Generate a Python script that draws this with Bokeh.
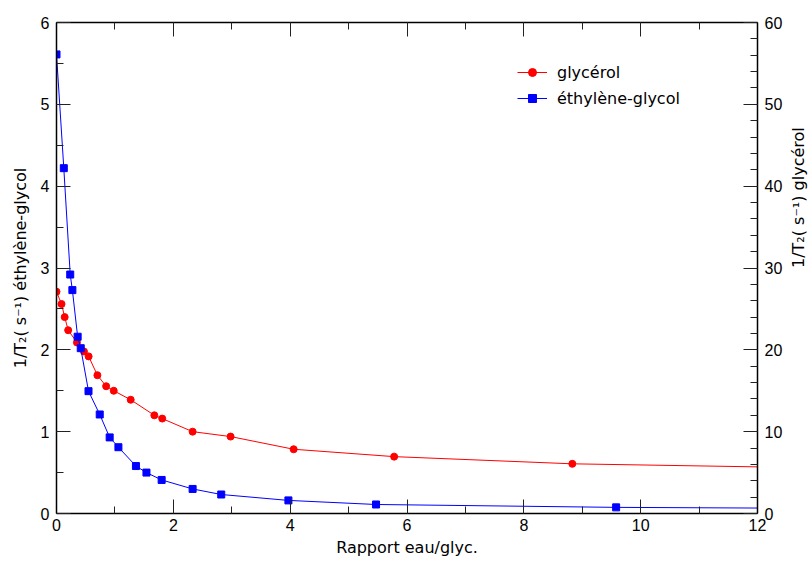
import math
from bokeh.plotting import figure
from bokeh.models import (Range1d, LinearAxis, SingleIntervalTicker, Legend, LegendItem)
from bokeh.embed import file_html
from bokeh.resources import INLINE

# Data
# Glycérol (right axis, 1/T2 in s^-1, scale 0-60)
gly_x = [0.0, 0.086, 0.14, 0.20, 0.35, 0.47, 0.55, 0.70, 0.85, 0.98, 1.27, 1.675, 1.81, 2.33, 2.98, 4.06, 5.78, 8.83, 16.0]
gly_y = [27.1, 25.6, 24.0, 22.4, 20.9, 19.8, 19.2, 16.9, 15.55, 15.0, 13.9, 12.0, 11.6, 10.0, 9.4, 7.85, 6.95, 6.07, 5.23]

# Ethylène-glycol (left axis, 1/T2 in s^-1, scale 0-6)
eg_x = [0.0, 0.125, 0.235, 0.272, 0.362, 0.415, 0.548, 0.74, 0.91, 1.06, 1.36, 1.54, 1.80, 2.33, 2.82, 3.97, 5.47, 9.58, 16.0]
eg_y = [5.61, 4.22, 2.92, 2.73, 2.16, 2.02, 1.495, 1.21, 0.93, 0.81, 0.58, 0.50, 0.41, 0.30, 0.232, 0.16, 0.11, 0.075, 0.053]

x_label = "Rapport eau/glyc."
y_left_label = "1/T\u2082( s\u207b\u00b9) \u00e9thyl\u00e8ne-glycol"
y_right_label = "1/T\u2082( s\u207b\u00b9) glyc\u00e9rol"
legend_labels = ["glyc\u00e9rol", "\u00e9thyl\u00e8ne-glycol"]

TICK_FONT = "Liberation Sans"
LABEL_FONT = "DejaVu Sans"

p = figure(frame_width=701, frame_height=491,
           x_range=Range1d(0, 12), y_range=Range1d(0, 6),
           output_backend="svg", toolbar_location=None,
           min_border_left=56, min_border_right=55,
           min_border_top=22, min_border_bottom=50,
           x_axis_location=None, y_axis_location=None)
p.extra_y_ranges = {"g": Range1d(0, 60)}
p.xgrid.visible = False
p.ygrid.visible = False
p.outline_line_color = None
p.background_fill_color = "white"
p.border_fill_color = "white"


def style(ax, ticker, labels=True):
    ax.ticker = ticker
    ax.axis_line_color = "black"
    ax.axis_line_width = 1.5
    ax.major_tick_in = 14
    ax.major_tick_out = 0
    ax.minor_tick_in = 7
    ax.minor_tick_out = 0
    ax.major_tick_line_color = "#222222"
    ax.minor_tick_line_color = "#222222"
    ax.major_label_text_font = TICK_FONT
    if labels:
        ax.major_label_text_font_size = "16px"
        ax.major_label_text_color = "black"
        ax.major_label_standoff = 7
    else:
        ax.major_label_text_font_size = "1px"
        ax.major_label_text_color = None
        ax.major_label_standoff = 0
    ax.axis_label_text_font = LABEL_FONT
    ax.axis_label_text_font_style = "normal"
    ax.axis_label_text_font_size = "16px"
    ax.axis_label_text_color = "black"


bottom = LinearAxis(axis_label=x_label)
style(bottom, SingleIntervalTicker(interval=2, num_minor_ticks=2))
bottom.major_label_standoff = 5
bottom.axis_label_standoff = 4
p.add_layout(bottom, "below")

top = LinearAxis()
style(top, SingleIntervalTicker(interval=2, num_minor_ticks=2), labels=False)
p.add_layout(top, "above")

left = LinearAxis(axis_label=y_left_label)
style(left, SingleIntervalTicker(interval=1, num_minor_ticks=2))
left.axis_label_standoff = 8
p.add_layout(left, "left")

right = LinearAxis(y_range_name="g", axis_label=y_right_label)
style(right, SingleIntervalTicker(interval=10, num_minor_ticks=5))
right.axis_label_standoff = 13
if "axis_label_orientation" in right.properties():
    right.axis_label_orientation = math.pi / 2
p.add_layout(right, "right")

RED = "#ff0000"
BLUE = "#0000ff"

gl = p.line(gly_x, gly_y, y_range_name="g", line_color=RED, line_width=1)
gs = p.scatter(gly_x, gly_y, y_range_name="g", marker="circle", size=7,
               fill_color=RED, line_color=RED)
el = p.line(eg_x, eg_y, line_color=BLUE, line_width=1)
es = p.scatter(eg_x, eg_y, marker="square", size=7, fill_color=BLUE, line_color=BLUE)

legend = Legend(items=[LegendItem(label=legend_labels[0], renderers=[gl, gs]),
                       LegendItem(label=legend_labels[1], renderers=[el, es])],
                location=(461, 405), border_line_color=None,
                background_fill_alpha=0, padding=5, spacing=6,
                glyph_width=30, glyph_height=20, label_height=20,
                label_standoff=10, label_text_font=LABEL_FONT,
                label_text_font_size="16px", label_text_color="black")
p.add_layout(legend)

open("out.html", "w").write(file_html(p, INLINE))
